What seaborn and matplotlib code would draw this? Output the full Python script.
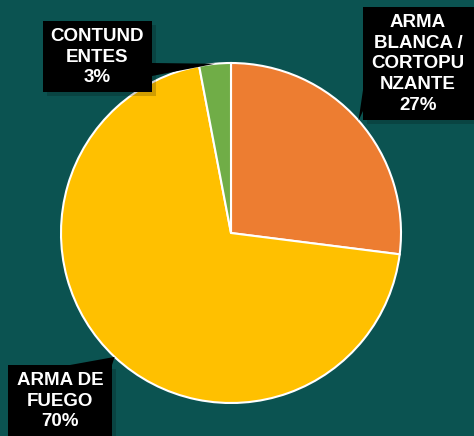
import numpy as np
import matplotlib.pyplot as plt
import matplotlib.patheffects as pe
from matplotlib.patches import Rectangle, Polygon
import seaborn as sns

# datos
categorias = ['ARMA\nBLANCA /\nCORTOPU\nNZANTE', 'ARMA DE\nFUEGO', 'CONTUND\nENTES']
porcentajes = [27, 70, 3]
colores = ['#ED7D31', '#FFC000', '#70AD47']

sns.set_theme(style='white')
plt.rcParams['font.family'] = ['Liberation Sans', 'DejaVu Sans']

fondo = '#0b5351'
fig = plt.figure(figsize=(4.74, 4.36), dpi=100, facecolor=fondo)
ax = fig.add_axes([0, 0, 1, 1])
ax.set_facecolor(fondo)

# pie en coordenadas de pixel (y hacia arriba)
cx, cy, r = 231, 203, 170
wedges, _ = ax.pie(porcentajes, colors=colores, startangle=90, counterclock=False,
                   center=(cx, cy), radius=r,
                   wedgeprops=dict(edgecolor='white', linewidth=1.5))
ax.set_xlim(0, 474)
ax.set_ylim(0, 436)
ax.set_aspect('equal')
ax.axis('off')

# cajas de etiquetas: (x0, y0, ancho, alto), centro del texto, base del conector
cajas = [
    dict(rect=(363, 316, 120, 113), txt=(418, 372), base=[(363, 346), (363, 325)]),
    dict(rect=(8, -10, 104, 81), txt=(60, 35), base=[(70, 71), (112, 71)]),
    dict(rect=(43, 344, 109, 71), txt=(97, 379), base=[(152, 373), (152, 360)]),
]

sombra = [pe.SimplePatchShadow(offset=(3, -3), alpha=0.18), pe.Normal()]
for w, cat, p, c in zip(wedges, categorias, porcentajes, cajas):
    ang = np.deg2rad((w.theta1 + w.theta2) / 2)
    tip = (cx + r * np.cos(ang), cy + r * np.sin(ang))
    ax.add_patch(Polygon([c['base'][0], c['base'][1], tip], closed=True,
                         fc='black', ec='none', zorder=3))
    x0, y0, bw, bh = c['rect']
    ax.add_patch(Rectangle((x0, y0), bw, bh, fc='black', ec='none', zorder=4,
                           path_effects=sombra, clip_on=False))
    ax.text(c['txt'][0], c['txt'][1], f'{cat}\n{p}%', color='white',
            fontsize=13.5, fontweight='bold', ha='center', va='center',
            linespacing=1.27, zorder=5)

fig.savefig('out.png', dpi=100, facecolor=fondo)
